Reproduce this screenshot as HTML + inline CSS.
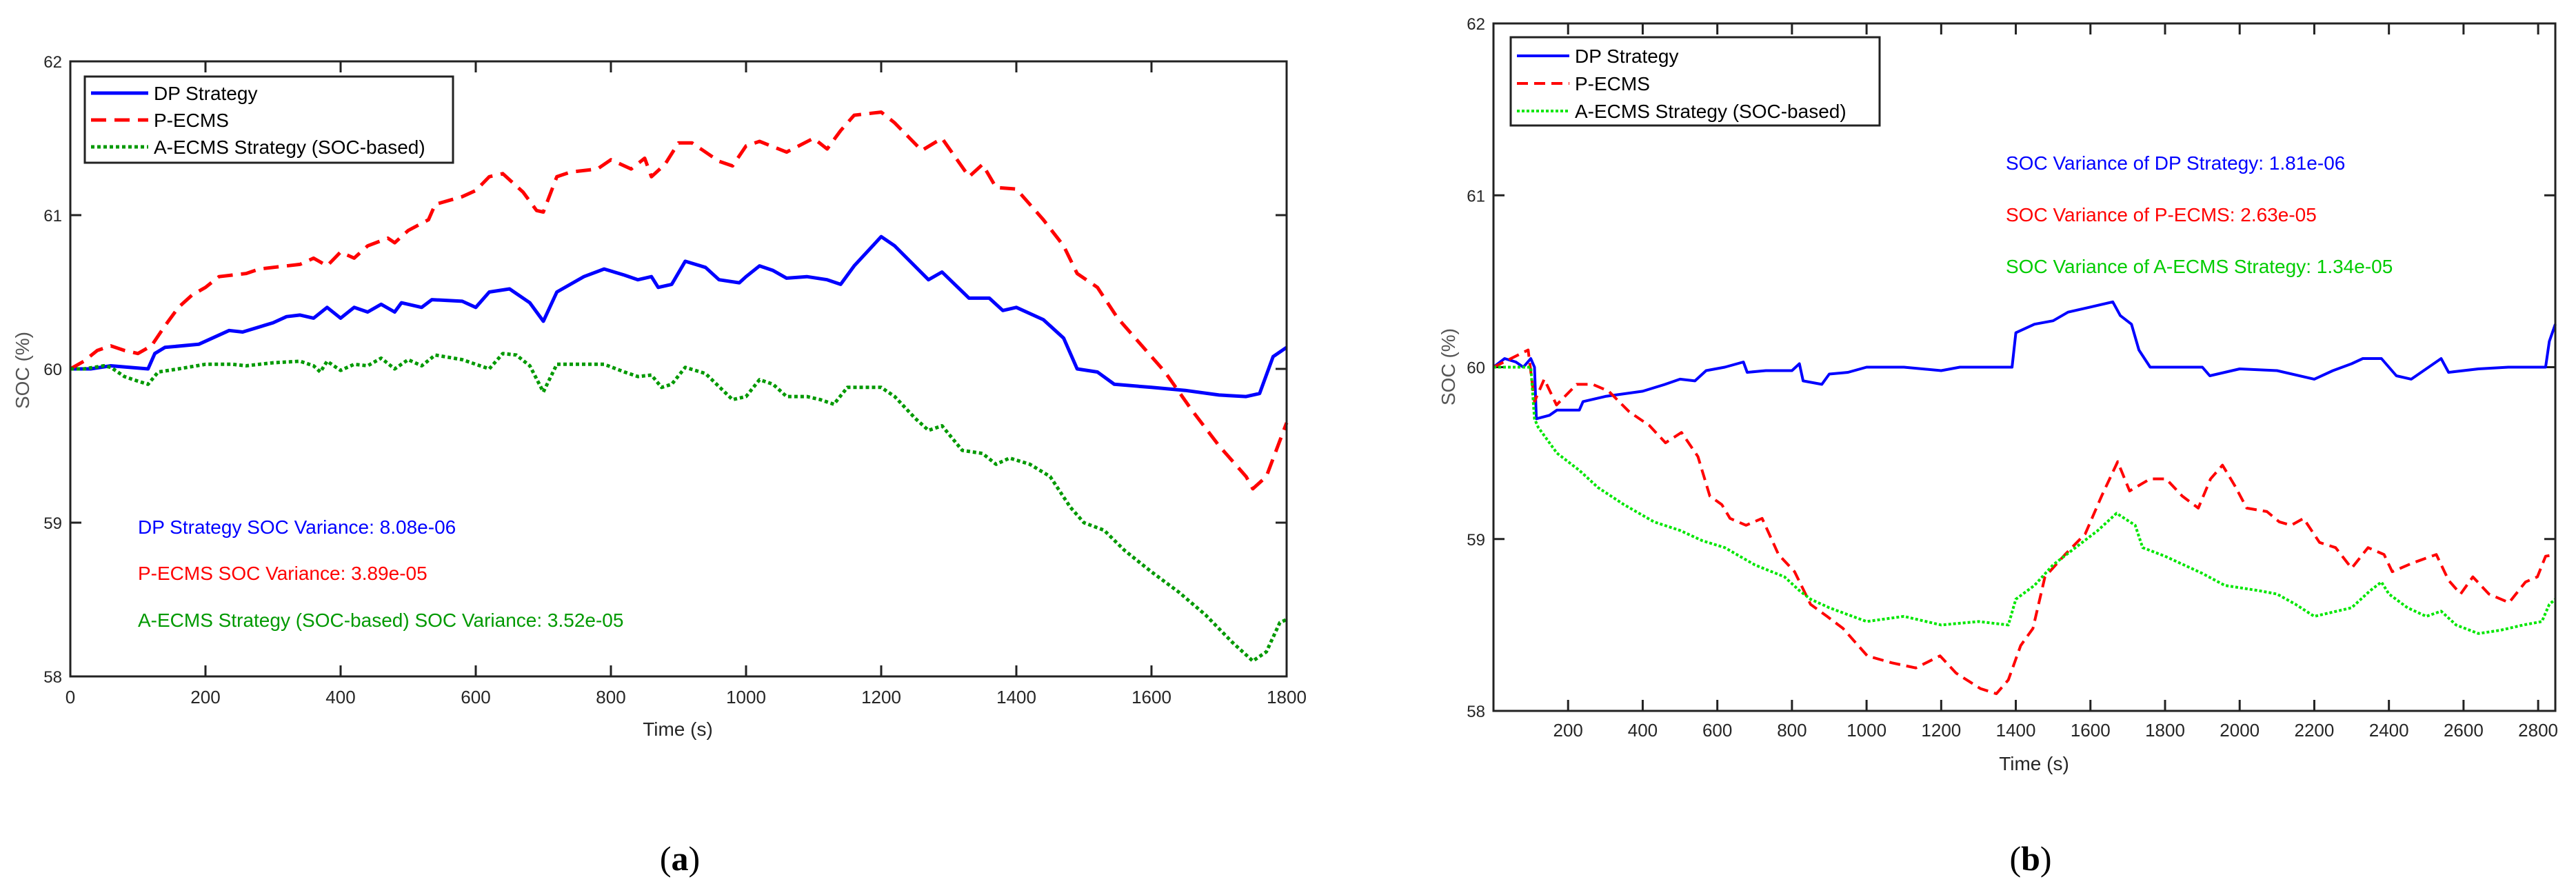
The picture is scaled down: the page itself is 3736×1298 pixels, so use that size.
<!DOCTYPE html>
<html><head><meta charset="utf-8"><style>
html,body{margin:0;padding:0;background:#fff;}
svg{display:block;font-family:"Liberation Sans",Arial,sans-serif;}
</style></head><body>
<svg id="fig" width="3736" height="1298" viewBox="0 0 3736 1298" xmlns="http://www.w3.org/2000/svg">
<rect width="3736" height="1298" fill="#fff"/>
<g id="chartA"></g>
<g id="chartB"></g>
<text x="986" y="1262" text-anchor="middle" font-family="Liberation Serif,serif" font-size="50">(<tspan font-weight="bold">a</tspan>)</text>
<text x="2945" y="1262" text-anchor="middle" font-family="Liberation Serif,serif" font-size="50">(<tspan font-weight="bold">b</tspan>)</text>
</svg>
<script>
// ---- Chart A data ----
const aXTicks = [0,200,400,600,800,1000,1200,1400,1600,1800];
const aYTicks = [58,59,60,61,62];
const aDpT = [0,30,60,115,125,140,190,235,255,300,320,340,360,380,400,420,440,460,480,490,520,535,580,600,620,650,680,700,720,760,790,820,840,860,870,890,910,940,960,990,1000,1020,1040,1060,1090,1120,1140,1160,1200,1220,1270,1290,1330,1360,1380,1400,1440,1470,1490,1520,1545,1600,1650,1700,1740,1760,1780,1800];
const aDpV = [60.0,60.0,60.02,60.0,60.1,60.14,60.16,60.25,60.24,60.3,60.34,60.35,60.33,60.4,60.33,60.4,60.37,60.42,60.37,60.43,60.4,60.45,60.44,60.4,60.5,60.52,60.43,60.31,60.5,60.6,60.65,60.61,60.58,60.6,60.53,60.55,60.7,60.66,60.58,60.56,60.6,60.67,60.64,60.59,60.6,60.58,60.55,60.67,60.86,60.8,60.58,60.63,60.46,60.46,60.38,60.4,60.32,60.2,60.0,59.98,59.9,59.88,59.86,59.83,59.82,59.84,60.08,60.14];
const aPeT = [0,20,40,60,80,100,120,140,160,180,200,220,260,280,320,340,360,380,400,420,440,470,480,500,530,540,580,600,620,640,670,690,700,720,740,780,800,830,850,860,880,900,920,960,980,1000,1020,1060,1100,1120,1140,1160,1200,1220,1260,1290,1330,1350,1370,1400,1440,1470,1490,1520,1550,1580,1620,1660,1700,1740,1750,1770,1800];
const aPeV = [60.0,60.05,60.12,60.15,60.12,60.1,60.15,60.28,60.4,60.48,60.53,60.6,60.62,60.65,60.67,60.68,60.72,60.67,60.76,60.72,60.8,60.85,60.82,60.9,60.97,61.07,61.12,61.16,61.25,61.27,61.15,61.03,61.02,61.25,61.28,61.3,61.36,61.3,61.37,61.25,61.33,61.47,61.47,61.35,61.32,61.45,61.48,61.41,61.5,61.43,61.55,61.65,61.67,61.6,61.42,61.5,61.25,61.33,61.18,61.17,60.97,60.8,60.62,60.53,60.33,60.18,59.98,59.73,59.5,59.3,59.22,59.3,59.65];
const aAeT = [0,20,50,60,80,100,115,130,160,200,240,260,300,340,360,370,380,400,420,440,460,480,500,520,540,580,600,620,640,660,680,700,720,760,790,820,840,860,875,890,910,940,980,1000,1020,1040,1060,1090,1110,1130,1150,1200,1220,1250,1270,1290,1320,1350,1370,1390,1420,1450,1480,1500,1530,1560,1600,1640,1680,1720,1750,1770,1790,1800];
const aAeV = [60.0,60.0,60.02,60.01,59.95,59.92,59.9,59.98,60.0,60.03,60.03,60.02,60.04,60.05,60.02,59.98,60.05,59.99,60.03,60.02,60.07,60.0,60.06,60.02,60.09,60.06,60.03,60.0,60.1,60.09,60.02,59.85,60.03,60.03,60.03,59.98,59.95,59.96,59.88,59.9,60.01,59.97,59.8,59.82,59.93,59.9,59.82,59.82,59.8,59.77,59.88,59.88,59.82,59.68,59.6,59.63,59.47,59.45,59.38,59.42,59.38,59.3,59.1,59.0,58.95,58.82,58.68,58.55,58.4,58.22,58.1,58.16,58.35,58.37];
// ---- Chart B data ----
const bXTicks = [200,400,600,800,1000,1200,1400,1600,1800,2000,2200,2400,2600,2800];
const bYTicks = [58,59,60,61,62];
const bDpT = [0,30,60,80,100,110,115,150,170,230,240,300,400,460,500,540,570,620,670,680,730,800,820,830,880,900,950,1000,1100,1200,1250,1390,1400,1450,1500,1540,1600,1660,1680,1710,1730,1760,1900,1920,2000,2100,2200,2250,2300,2330,2380,2420,2460,2540,2560,2640,2720,2820,2830,2846];
const bDpV = [60.0,60.05,60.03,60.0,60.05,60.0,59.7,59.72,59.75,59.75,59.8,59.83,59.86,59.9,59.93,59.92,59.98,60.0,60.03,59.97,59.98,59.98,60.02,59.92,59.9,59.96,59.97,60.0,60.0,59.98,60.0,60.0,60.2,60.25,60.27,60.32,60.35,60.38,60.3,60.25,60.1,60.0,60.0,59.95,59.99,59.98,59.93,59.98,60.02,60.05,60.05,59.95,59.93,60.05,59.97,59.99,60.0,60.0,60.15,60.25];
const bPeT = [0,93,110,136,169,223,266,309,364,418,461,504,548,580,612,634,677,720,764,807,850,894,937,1002,1067,1132,1197,1240,1305,1348,1380,1413,1446,1478,1532,1586,1630,1673,1705,1760,1803,1846,1889,1922,1954,1987,2019,2073,2106,2138,2171,2214,2257,2300,2344,2387,2409,2463,2527,2560,2592,2625,2668,2722,2766,2798,2820,2846];
const bPeV = [60.0,60.1,59.8,59.93,59.78,59.9,59.9,59.86,59.74,59.66,59.56,59.62,59.48,59.25,59.2,59.12,59.08,59.12,58.91,58.81,58.62,58.55,58.48,58.32,58.28,58.25,58.32,58.22,58.13,58.1,58.18,58.38,58.48,58.78,58.91,59.03,59.25,59.45,59.28,59.35,59.35,59.25,59.18,59.35,59.43,59.31,59.18,59.16,59.1,59.08,59.12,58.98,58.95,58.83,58.95,58.91,58.81,58.86,58.91,58.76,58.68,58.78,58.68,58.63,58.75,58.78,58.9,58.91];
const bAeT = [0,100,110,120,170,230,280,350,430,500,560,620,700,780,820,850,900,1000,1100,1200,1300,1380,1400,1450,1500,1560,1620,1670,1720,1740,1800,1900,1960,2050,2100,2150,2200,2260,2300,2350,2380,2400,2450,2500,2540,2580,2640,2700,2760,2810,2830,2846];
const bAeV = [60.0,60.0,59.7,59.65,59.5,59.4,59.3,59.2,59.1,59.05,58.99,58.95,58.85,58.78,58.7,58.65,58.6,58.52,58.55,58.5,58.52,58.5,58.65,58.73,58.85,58.95,59.05,59.15,59.08,58.95,58.9,58.8,58.73,58.7,58.68,58.62,58.55,58.58,58.6,58.7,58.75,58.68,58.6,58.55,58.58,58.5,58.45,58.47,58.5,58.52,58.62,58.65];

const NS="http://www.w3.org/2000/svg";
function mk(parent, tag, attrs, text){
  const e=document.createElementNS(NS,tag);
  for(const k in attrs) e.setAttribute(k,attrs[k]);
  if(text!==undefined) e.textContent=text;
  parent.appendChild(e); return e;
}
function drawChart(g, cfg){
  const sx=t=>cfg.x0+(t-cfg.xmin)/(cfg.xmax-cfg.xmin)*(cfg.x1-cfg.x0);
  const sy=v=>cfg.y1-(v-cfg.ymin)/(cfg.ymax-cfg.ymin)*(cfg.y1-cfg.y0);
  const TL=16;
  // ticks
  cfg.xticks.forEach(t=>{
    const x=sx(t);
    const tk=mk(g,'path',{d:`M${x},${cfg.y1}V${cfg.y1-TL}M${x},${cfg.y0}V${cfg.y0+TL}`,stroke:'#222','stroke-width':3});
    
    
    const lb=mk(g,'text',{x:x,y:cfg.y1+cfg.xlabOff,'text-anchor':'middle','font-size':26,fill:'#262626'},String(t));
    
    
  });
  cfg.yticks.forEach(v=>{
    const y=sy(v);
    const tk=mk(g,'path',{d:`M${cfg.x0},${y}H${cfg.x0+TL}M${cfg.x1},${y}H${cfg.x1-TL}`,stroke:'#222','stroke-width':3});
    
    
    const lb=mk(g,'text',{x:cfg.x0-12,y:y+9,'text-anchor':'end','font-size':24,fill:'#262626'},String(v));
    
    
  });
  // series
  cfg.series.forEach(s=>{
    const d=s.t.map((t,i)=>(i?'L':'M')+sx(t).toFixed(1)+','+sy(s.v[i]).toFixed(1)).join('');
    const p=mk(g,'path',{d:d,fill:'none',stroke:s.color,'stroke-width':s.w,'stroke-dasharray':s.dash||'none','stroke-linejoin':'round'});
    
    
  });
  // frame
  const fr=mk(g,'rect',{x:cfg.x0,y:cfg.y0,width:cfg.x1-cfg.x0,height:cfg.y1-cfg.y0,fill:'none',stroke:'#222','stroke-width':3});
  
  
  const xl=mk(g,'text',{x:cfg.xlabX,y:cfg.xlabY,'text-anchor':'middle','font-size':28,fill:'#262626'},'Time (s)');
  
  
  const yl=mk(g,'text',{x:cfg.ylabX,y:cfg.ylabY,'text-anchor':'middle','font-size':28,fill:'#555',transform:`rotate(-90 ${cfg.ylabX} ${cfg.ylabY})`},'SOC (%)');
  
  
  // legend
  const L=cfg.legend;
  const lg=mk(g,'g',{});
  
  
  mk(lg,'rect',{x:L.x,y:L.y,width:L.w,height:L.h,fill:'#fff',stroke:'#222','stroke-width':3});
  cfg.series.forEach((s,i)=>{
    const y=L.rows[i];
    const e=mk(lg,'g',{});
    
    
    mk(e,'line',{x1:L.x+9,x2:L.x+L.lineW,y1:y,y2:y,stroke:s.color,'stroke-width':s.w,'stroke-dasharray':s.dash||'none'});
    mk(e,'text',{x:L.x+L.lineW+8,y:y+10,'font-size':L.fs,fill:'#000'},s.label);
  });
  cfg.notes.forEach(n=>{
    const t=mk(g,'text',{x:n.x,y:n.y,'font-size':28,fill:n.color},n.text);
    
    
  });
}
drawChart(document.getElementById('chartA'),{
  x0:102,x1:1866,y0:89,y1:981,xmin:0,xmax:1800,ymin:58,ymax:62,
  xticks:aXTicks,yticks:aYTicks,xlabOff:39,xlabX:983,xlabY:1067,ylabX:42,ylabY:537,
  series:[
    {name:'dp-strategy-line',label:'DP Strategy',t:aDpT,v:aDpV,color:'#0000ff',w:5},
    {name:'p-ecms-line',label:'P-ECMS',t:aPeT,v:aPeV,color:'#ff0000',w:5,dash:'22,12'},
    {name:'a-ecms-line',label:'A-ECMS Strategy (SOC-based)',t:aAeT,v:aAeV,color:'#009900',w:5,dash:'5,4'}
  ],
  legend:{x:123,y:111,w:534,h:125,rows:[135,174,213],lineW:92,fs:28},
  notes:[
    {x:200,y:774,color:'#0000ff',text:'DP Strategy SOC Variance: 8.08e-06'},
    {x:200,y:841,color:'#ff0000',text:'P-ECMS SOC Variance: 3.89e-05'},
    {x:200,y:909,color:'#009900',text:'A-ECMS Strategy (SOC-based) SOC Variance: 3.52e-05'}
  ]
});
drawChart(document.getElementById('chartB'),{
  x0:2166,x1:3706,y0:34,y1:1031,xmin:0,xmax:2846,ymin:58,ymax:62,
  xticks:bXTicks,yticks:bYTicks,xlabOff:37,xlabX:2950,xlabY:1117,ylabX:2110,ylabY:532,
  series:[
    {name:'dp-strategy-line',label:'DP Strategy',t:bDpT,v:bDpV,color:'#0000ff',w:4},
    {name:'p-ecms-line',label:'P-ECMS',t:bPeT,v:bPeV,color:'#ff0000',w:4,dash:'16,9'},
    {name:'a-ecms-line',label:'A-ECMS Strategy (SOC-based)',t:bAeT,v:bAeV,color:'#00e600',w:4,dash:'4,3'}
  ],
  legend:{x:2191,y:54,w:535,h:128,rows:[81,121,161],lineW:85,fs:28},
  notes:[
    {x:2909,y:246,color:'#0000ff',text:'SOC Variance of DP Strategy: 1.81e-06'},
    {x:2909,y:321,color:'#ff0000',text:'SOC Variance of P-ECMS: 2.63e-05'},
    {x:2909,y:396,color:'#00cc00',text:'SOC Variance of A-ECMS Strategy: 1.34e-05'}
  ]
});
</script>
</body></html>
